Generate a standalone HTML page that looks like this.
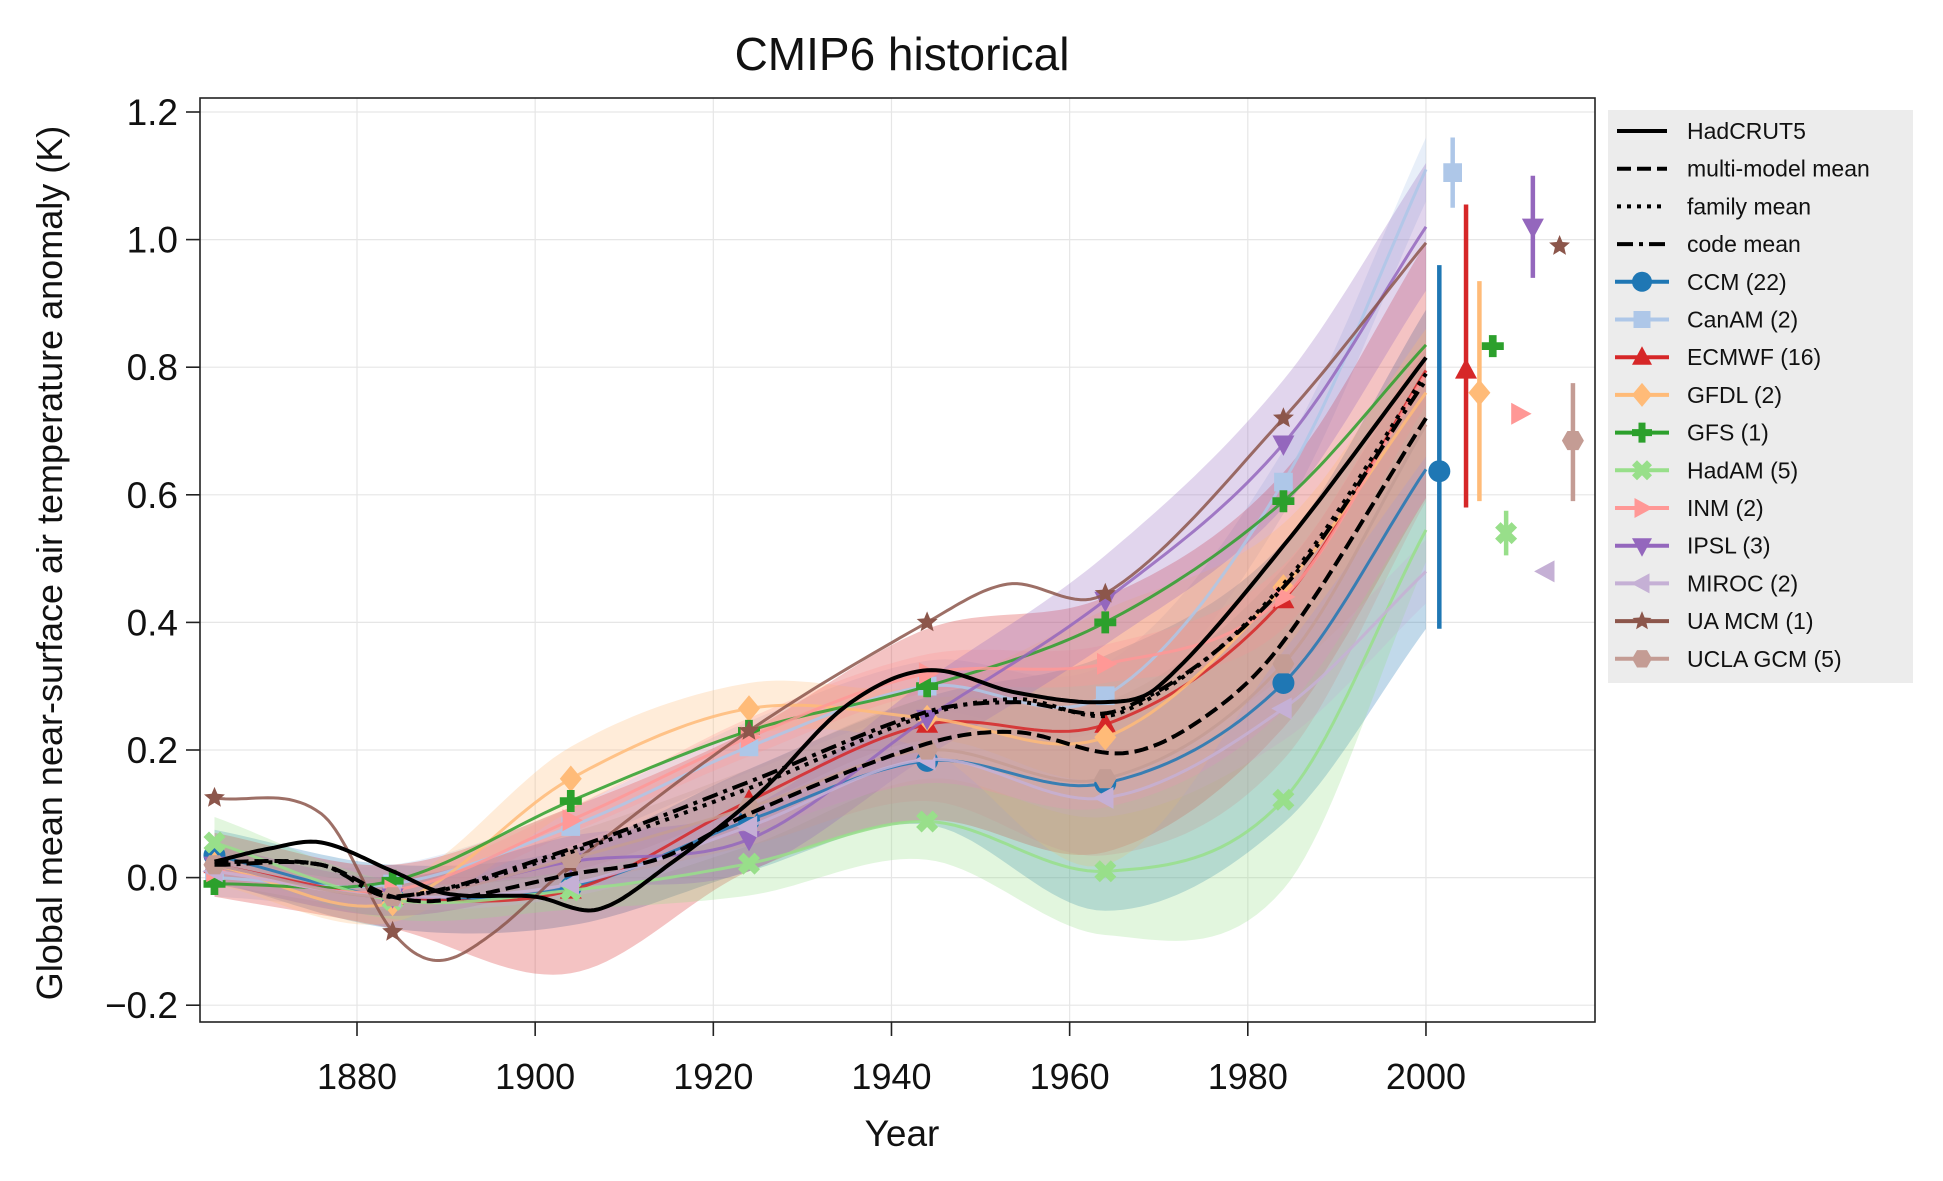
<!DOCTYPE html>
<html><head><meta charset="utf-8">
<style>
html,body{margin:0;padding:0;background:#fff;}
svg{display:block;font-family:"Liberation Sans","DejaVu Sans",sans-serif;}
</style></head>
<body>
<svg id="chart" width="1943" height="1181" viewBox="0 0 1943 1181">
<rect width="1943" height="1181" fill="#fff"/>
<g id="grid"></g>
<g id="bands"></g>
<g id="lines"></g>
<g id="means"></g>
<g id="errs"></g>
<rect x="200" y="98" width="1395" height="924" fill="none" stroke="#222" stroke-width="1.6"/>
<g id="axes"></g>
<text x="902" y="70" font-size="46" text-anchor="middle" fill="#111">CMIP6 historical</text>
<text x="902" y="1146" font-size="37" text-anchor="middle" fill="#111">Year</text>
<text transform="translate(62,563) rotate(-90)" font-size="36" text-anchor="middle" fill="#111">Global mean near-surface air temperature anomaly (K)</text>
<g id="legend"></g>
</svg>
<script>
// ---- data ----
const markerYears = [1864, 1884, 1904, 1924, 1944, 1964, 1984, 2000];
const familyNames = ["CCM (22)","CanAM (2)","ECMWF (16)","GFDL (2)","GFS (1)","HadAM (5)","INM (2)","IPSL (3)","MIROC (2)","UA MCM (1)","UCLA GCM (5)"];
const familyColors = ["#1f77b4","#aec7e8","#d62728","#ffbb78","#2ca02c","#98df8a","#ff9896","#9467bd","#c5b0d5","#8c564b","#c49c94"];
const familyMarkers = ["circle","square","tri-up","diamond","plus","xfill","tri-right","tri-down","tri-left","star","hexagon"];
const ccmVals   = [0.035,-0.03,-0.015,0.09,0.183,0.148,0.305,0.64];
const canamVals = [0.0,-0.01,0.08,0.205,0.30,0.285,0.62,1.11];
const ecmwfVals = [0.02,-0.03,-0.02,0.12,0.24,0.24,0.435,0.795];
const gfdlVals  = [0.02,-0.04,0.155,0.265,0.25,0.22,0.455,0.76];
const gfsVals   = [-0.01,-0.005,0.12,0.23,0.30,0.40,0.59,0.835];
const hadamVals = [0.055,-0.035,-0.02,0.022,0.088,0.01,0.122,0.545];
const inmVals   = [0.01,-0.02,0.09,0.22,0.32,0.335,0.44,0.79];
const ipslVals  = [0.02,-0.03,0.025,0.06,0.25,0.435,0.68,1.02];
const mirocVals = [0.01,-0.03,-0.01,0.08,0.185,0.125,0.265,0.48];
const uaYears   = [1864,1876,1884,1889,1895,1904,1924,1944,1953,1964,1984,2000];
const uaVals    = [0.125,0.1,-0.085,-0.13,-0.09,0.02,0.23,0.40,0.46,0.445,0.72,0.995];
const uclaVals  = [0.02,-0.03,0.03,0.11,0.2,0.155,0.335,0.71];
const familyVals = [ccmVals,canamVals,ecmwfVals,gfdlVals,gfsVals,hadamVals,inmVals,ipslVals,mirocVals,null,uclaVals];
// spread half-widths at markerYears
const ccmSpread   = [0.04,0.05,0.06,0.08,0.1,0.2,0.22,0.25];
const canamSpread = [0.03,0.03,0.03,0.04,0.04,0.05,0.05,0.05];
const ecmwfSpread = [0.05,0.05,0.13,0.11,0.15,0.2,0.2,0.2];
const gfdlSpread  = [0.03,0.03,0.05,0.04,0.05,0.2,0.1,0.1];
const hadamSpread = [0.04,0.03,0.03,0.05,0.06,0.1,0.14,0.05];
const inmSpread   = [0.02,0.02,0.02,0.03,0.03,0.03,0.05,0.05];
const ipslSpread  = [0.03,0.03,0.04,0.05,0.06,0.07,0.1,0.1];
const mirocSpread = [0.02,0.02,0.02,0.03,0.03,0.03,0.05,0.05];
const uclaSpread  = [0.03,0.03,0.04,0.06,0.08,0.12,0.15,0.12];
const familySpreads = [ccmSpread,canamSpread,ecmwfSpread,gfdlSpread,null,hadamSpread,inmSpread,ipslSpread,mirocSpread,null,uclaSpread];
// final-period means with error ranges
const errYears = [2001.5,2003,2004.5,2006,2007.5,2009,2010.5,2012,2013.5,2015,2016.5];
const errMid   = [0.637,1.105,0.795,0.76,0.833,0.54,0.727,1.02,0.48,0.99,0.685];
const errLow   = [0.39,1.05,0.58,0.59,0.833,0.505,0.727,0.94,0.48,0.99,0.59];
const errHigh  = [0.96,1.16,1.055,0.935,0.833,0.575,0.727,1.1,0.48,0.99,0.775];
// observations & means
const hadYears = [1864,1870,1876,1884,1890,1900,1907,1915,1925,1935,1944,1954,1964,1970,1984,2000];
const hadVals  = [0.025,0.045,0.055,0.01,-0.025,-0.03,-0.05,0.02,0.13,0.27,0.325,0.29,0.275,0.3,0.52,0.815];
const mmmYears = [1864,1876,1884,1890,1904,1914,1924,1944,1954,1966,1975,1984,2000];
const mmmVals  = [0.025,0.02,-0.03,-0.035,0.005,0.03,0.1,0.21,0.228,0.195,0.25,0.37,0.72];
const famYears = [1864,1876,1884,1904,1924,1944,1954,1966,1984,2000];
const famVals  = [0.025,0.02,-0.03,0.04,0.14,0.255,0.28,0.26,0.46,0.79];
const codeVals = [0.02,0.02,-0.03,0.045,0.15,0.26,0.275,0.265,0.455,0.78];
const xTicks = [1880,1900,1920,1940,1960,1980,2000];
const yTicks = [-0.2,0.0,0.2,0.4,0.6,0.8,1.0,1.2];

// ---- scales ----
const X = yr => 357 + (yr - 1880) * 8.908;
const Y = v => 112 + (1.2 - v) * 638;
const NS = "http://www.w3.org/2000/svg";
function mk(tag, attrs, parent){const e=document.createElementNS(NS,tag);for(const k in attrs)e.setAttribute(k,attrs[k]);if(parent)parent.appendChild(e);return e;}
function spline(xs, ys){
  const pts=[];
  for(let i=0;i<xs.length-1;i++){
    const x0=xs[Math.max(0,i-1)],x1=xs[i],x2=xs[i+1],x3=xs[Math.min(xs.length-1,i+2)];
    const y0=ys[Math.max(0,i-1)],y1=ys[i],y2=ys[i+1],y3=ys[Math.min(ys.length-1,i+2)];
    const m1=(y2-y0)/((x2-x0)||1)*(x2-x1), m2=(y3-y1)/((x3-x1)||1)*(x2-x1);
    for(let s=0;s<20;s++){const t=s/20,t2=t*t,t3=t2*t;
      const h00=2*t3-3*t2+1,h10=t3-2*t2+t,h01=-2*t3+3*t2,h11=t3-t2;
      pts.push([x1+(x2-x1)*t, h00*y1+h10*m1+h01*y2+h11*m2]);}
  }
  pts.push([xs[xs.length-1],ys[ys.length-1]]);
  return pts;
}
function pathOf(pts){return pts.map((p,i)=>(i?"L":"M")+X(p[0]).toFixed(1)+","+Y(p[1]).toFixed(1)).join("");}
function markerPath(type, cx, cy, r){
  const P=a=>"M"+a.map(p=>(cx+p[0]*r).toFixed(1)+","+(cy+p[1]*r).toFixed(1)).join("L")+"Z";
  switch(type){
    case "circle": return `M${cx-r},${cy}a${r},${r} 0 1,0 ${2*r},0a${r},${r} 0 1,0 ${-2*r},0Z`;
    case "square": return P([[-0.85,-0.85],[0.85,-0.85],[0.85,0.85],[-0.85,0.85]]);
    case "tri-up": return P([[0,-1.1],[1,0.75],[-1,0.75]]);
    case "tri-down": return P([[0,1.1],[1,-0.75],[-1,-0.75]]);
    case "tri-left": return P([[-1.1,0],[0.75,-1],[0.75,1]]);
    case "tri-right": return P([[1.1,0],[-0.75,-1],[-0.75,1]]);
    case "diamond": return P([[0,-1.2],[1,0],[0,1.2],[-1,0]]);
    case "plus": return P([[-0.35,-1],[0.35,-1],[0.35,-0.35],[1,-0.35],[1,0.35],[0.35,0.35],[0.35,1],[-0.35,1],[-0.35,0.35],[-1,0.35],[-1,-0.35],[-0.35,-0.35]]);
    case "xfill": return P([[-0.5,-1],[0,-0.5],[0.5,-1],[1,-0.5],[0.5,0],[1,0.5],[0.5,1],[0,0.5],[-0.5,1],[-1,0.5],[-0.5,0],[-1,-0.5]]);
    case "hexagon": return P([[-0.5,-0.87],[0.5,-0.87],[1,0],[0.5,0.87],[-0.5,0.87],[-1,0]]);
    case "star": {const a=[];for(let i=0;i<10;i++){const ang=-Math.PI/2+i*Math.PI/5,rr=i%2?0.45:1;a.push([Math.cos(ang)*rr,Math.sin(ang)*rr]);}return P(a);}
  }
}

// ---- grid & axes ----
const grid=document.getElementById("grid"), axes=document.getElementById("axes");
xTicks.forEach(t=>{
  const gl=mk("line",{x1:X(t),x2:X(t),y1:98,y2:1022,stroke:"#e6e6e6","stroke-width":1.2},grid);
  
  
  const tk=mk("line",{x1:X(t),x2:X(t),y1:1022,y2:1036,stroke:"#222","stroke-width":1.6},axes);
  
  
  const tl=mk("text",{x:X(t),y:1089,"font-size":36,"text-anchor":"middle",fill:"#111"},axes);
  tl.textContent=t;
  
  
});
yTicks.forEach(t=>{
  const gl=mk("line",{x1:200,x2:1595,y1:Y(t),y2:Y(t),stroke:"#e6e6e6","stroke-width":1.2},grid);
  
  
  const tk=mk("line",{x1:186,x2:200,y1:Y(t),y2:Y(t),stroke:"#222","stroke-width":1.6},axes);
  
  
  const tl=mk("text",{x:178,y:Y(t)+13,"font-size":37,"text-anchor":"end",fill:"#111"},axes);
  tl.textContent=(t<0?"\u2212":"")+Math.abs(t).toFixed(1);
  
  
});

// ---- bands, lines, markers ----
const bands=document.getElementById("bands"), lines=document.getElementById("lines");
const clip=mk("clipPath",{id:"pc"},document.getElementById("chart"));
mk("rect",{x:200,y:98,width:1395,height:924},clip);
bands.setAttribute("clip-path","url(#pc)");
familyNames.forEach((name,i)=>{
  const yrs = familyVals[i] ? markerYears : uaYears;
  const vals = familyVals[i] || uaVals;
  const sp = familySpreads[i];
  if(sp){
    const up=spline(markerYears, vals.map((v,k)=>v+sp[k]));
    const lo=spline(markerYears, vals.map((v,k)=>v-sp[k])).reverse();
    const b=mk("path",{d:pathOf(up)+pathOf(lo).replace("M","L")+"Z",fill:familyColors[i],"fill-opacity":0.28,stroke:"none"},bands);
    
    
  }
  const ln=mk("path",{d:pathOf(spline(yrs,vals)),fill:"none",stroke:familyColors[i],"stroke-width":3,"stroke-opacity":0.85},lines);
  
  
  yrs.forEach((yr,k)=>{
    if(yr>=2000 || (!familyVals[i] && markerYears.indexOf(yr)<0)) return;
    const m=mk("path",{d:markerPath(familyMarkers[i],X(yr),Y(vals[k]),11),fill:familyColors[i]},lines);
    
    
  });
});
const means=document.getElementById("means");
const hl=mk("path",{d:pathOf(spline(hadYears,hadVals)),fill:"none",stroke:"#000","stroke-width":4},means);


const ml=mk("path",{d:pathOf(spline(mmmYears,mmmVals)),fill:"none",stroke:"#000","stroke-width":4,"stroke-dasharray":"14,6"},means);


const fl=mk("path",{d:pathOf(spline(famYears,famVals)),fill:"none",stroke:"#000","stroke-width":4,"stroke-dasharray":"4,6"},means);


const cl=mk("path",{d:pathOf(spline(famYears,codeVals)),fill:"none",stroke:"#000","stroke-width":4,"stroke-dasharray":"16,6,4,6"},means);



// ---- error bars ----
const errs=document.getElementById("errs");
errYears.forEach((yr,i)=>{
  if(errHigh[i]>errLow[i]){
    const e=mk("line",{x1:X(yr),x2:X(yr),y1:Y(errLow[i]),y2:Y(errHigh[i]),stroke:familyColors[i],"stroke-width":4.5},errs);
    
    
  }
  const m=mk("path",{d:markerPath(familyMarkers[i],X(yr),Y(errMid[i]),11),fill:familyColors[i]},errs);
  
  
});

// ---- legend ----
const lg=document.getElementById("legend");
mk("rect",{x:1608,y:110,width:305,height:573,fill:"#ececec"},lg);
const legendLabels=["HadCRUT5","multi-model mean","family mean","code mean"].concat(familyNames);
const dashes=[null,"14,6","4,6","16,6,4,6"];
legendLabels.forEach((lab,i)=>{
  const y=131+i*37.7;
  const g=mk("g",{},lg);
  
  
  if(i<4){
    const a={x1:1617,x2:1667,y1:y,y2:y,stroke:"#000","stroke-width":4};
    if(dashes[i]) a["stroke-dasharray"]=dashes[i];
    mk("line",a,g);
  } else {
    const c=familyColors[i-4];
    mk("line",{x1:1615,x2:1669,y1:y,y2:y,stroke:c,"stroke-width":4},g);
    mk("path",{d:markerPath(familyMarkers[i-4],1642,y,10),fill:c},g);
  }
  const t=mk("text",{x:1687,y:y+8,"font-size":23,fill:"#111"},g);
  t.textContent=lab;
});
</script>
</body></html>
